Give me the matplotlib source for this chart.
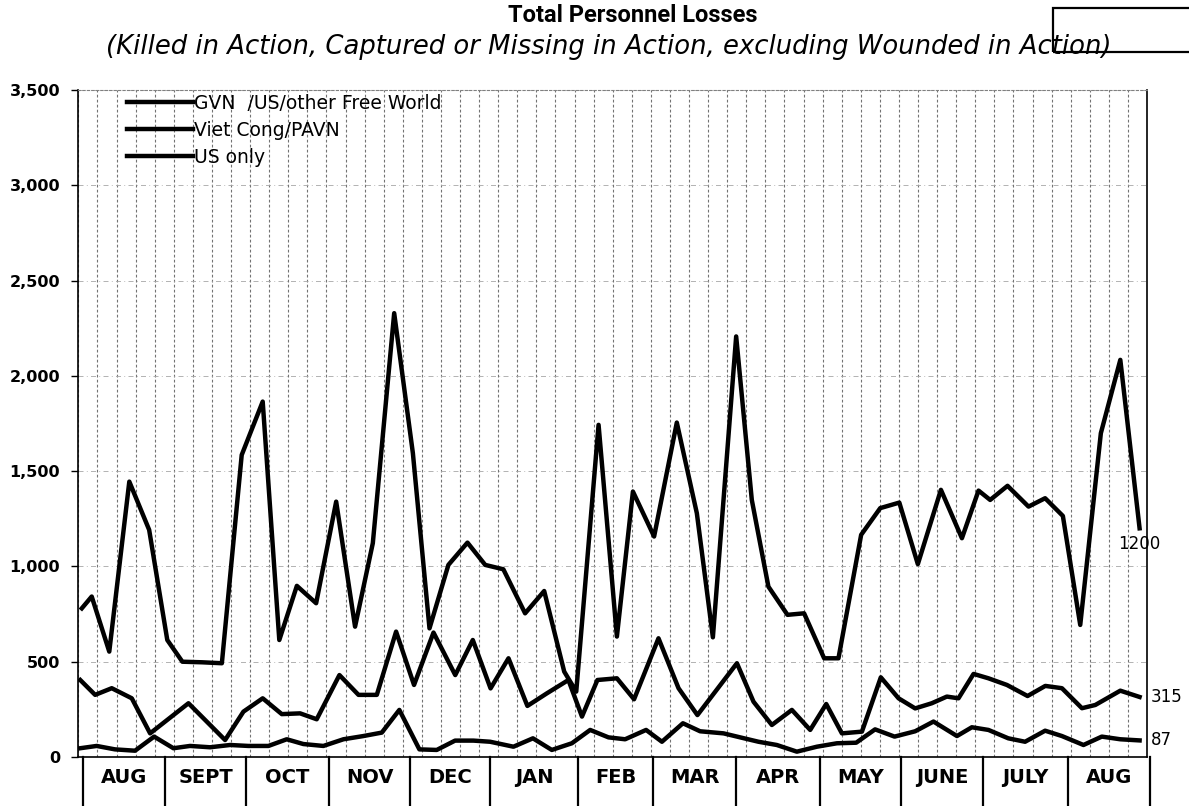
import numpy as np
import matplotlib.pyplot as plt
from matplotlib.patches import Rectangle
from matplotlib.ticker import FuncFormatter

# x = weeks from the start of the chart, y = personnel lost that week
vc_week = [0.18, 0.70, 1.62, 2.67, 3.71, 4.66, 5.45, 6.48, 7.52, 8.56,
           9.66, 10.53, 11.45, 12.46, 13.51, 14.50, 15.43, 16.55, 17.53, 18.40,
           19.39, 20.39, 21.32, 22.27, 23.41, 24.41, 25.46, 26.09, 27.26, 28.22,
           29.06, 30.17, 31.36, 32.41, 33.25, 34.47, 35.29, 36.16, 37.16, 38.03,
           39.08, 39.83, 41.02, 42.02, 43.02, 43.99, 45.20, 46.30, 47.17, 47.78,
           48.69, 49.79, 50.66, 51.59, 52.50, 53.58, 54.60, 55.61]
vc_loss = [780, 842, 553, 1445, 1192, 614, 500, 497, 492, 1585,
           1865, 614, 898, 807, 1340, 684, 1122, 2329, 1594, 675,
           1008, 1125, 1008, 985, 754, 871, 448, 343, 1743, 632,
           1393, 1157, 1755, 1279, 628, 2207, 1349, 894, 746, 754,
           518, 518, 1166, 1306, 1335, 1012, 1402, 1148, 1398, 1349,
           1423, 1314, 1358, 1265, 693, 1699, 2084, 1200]

gvn_week = [0.10, 0.88, 1.75, 2.80, 3.76, 5.77, 7.69, 8.65, 9.66, 10.66,
            11.62, 12.49, 13.68, 14.68, 15.64, 16.65, 17.59, 18.61, 19.75, 20.67,
            21.60, 22.54, 23.53, 24.55, 25.68, 26.39, 27.20, 28.22, 29.12, 30.40,
            31.45, 32.44, 34.51, 35.38, 36.34, 37.39, 38.35, 39.19, 40.01, 41.06,
            42.05, 42.98, 43.85, 44.72, 45.51, 46.12, 46.91, 47.69, 48.66, 49.74,
            50.67, 51.54, 52.59, 53.29, 54.60, 55.61]
gvn_loss = [404, 326, 361, 308, 124, 282, 89, 238, 308, 225,
            229, 198, 430, 326, 326, 658, 378, 653, 430, 614,
            360, 518, 268, 334, 404, 212, 404, 413, 303, 623,
            361, 220, 492, 290, 168, 247, 142, 278, 124, 133,
            418, 308, 255, 282, 317, 308, 436, 413, 378, 320,
            373, 361, 256, 273, 348, 315]

us_week = [0.10, 0.96, 1.92, 2.97, 3.97, 4.98, 5.85, 6.90, 7.95, 8.91,
           9.96, 10.92, 11.79, 12.84, 13.89, 14.94, 15.90, 16.82, 17.87, 18.78,
           19.74, 20.70, 21.58, 22.80, 23.82, 24.81, 25.86, 26.82, 27.78, 28.65,
           29.75, 30.58, 31.68, 32.58, 33.81, 34.68, 35.64, 36.60, 37.65, 38.70,
           39.75, 40.76, 41.75, 42.77, 43.85, 44.81, 46.04, 46.82, 47.69, 48.73,
           49.61, 50.66, 51.54, 52.67, 53.63, 54.60, 55.61]
us_loss = [46, 58, 40, 33, 107, 46, 58, 51, 63, 58,
           58, 93, 68, 58, 93, 110, 128, 247, 40, 37,
           86, 86, 80, 54, 98, 37, 72, 142, 103, 93,
           142, 80, 177, 135, 124, 103, 80, 63, 28, 54,
           72, 75, 145, 107, 135, 186, 110, 156, 142, 98,
           80, 138, 110, 63, 107, 93, 87]

months = ["AUG", "SEPT", "OCT", "NOV", "DEC", "JAN", "FEB",
          "MAR", "APR", "MAY", "JUNE", "JULY", "AUG"]
month_edges = [0.25, 4.54, 8.79, 13.14, 17.38, 21.58, 26.19,
               30.12, 34.47, 38.87, 43.12, 47.42, 51.87, 56.17]
n_weeks = 56

fig = plt.figure(figsize=(11.89, 8.06), dpi=100)
ax = fig.add_axes([0.0659, 0.0608, 0.8988, 0.8275])

gvn, = ax.plot(gvn_week, gvn_loss, color="black", lw=3.2, solid_joinstyle="round",
               label="GVN  /US/other Free World")
vc, = ax.plot(vc_week, vc_loss, color="black", lw=3.2, solid_joinstyle="round",
              label="Viet Cong/PAVN")
us, = ax.plot(us_week, us_loss, color="black", lw=3.2, solid_joinstyle="round",
              label="US only")

ax.set_xlim(0, n_weeks)
ax.set_ylim(0, 3500)

# weekly grid, thin broken lines like the printed original
ax.set_xticks(np.arange(0, n_weeks + 1))
ax.tick_params(axis="x", length=0, labelbottom=False)
ax.grid(axis="x", color="0.45", lw=0.8, linestyle=(0, (2.5, 2)))
ax.set_yticks(np.arange(0, 3501, 500))
ax.yaxis.set_major_formatter(FuncFormatter(lambda v, p: f"{int(v):,}"))
ax.tick_params(axis="y", length=5, width=1, labelsize=11.5, pad=8)
for lab in ax.get_yticklabels():
    lab.set_fontweight("bold")
ax.grid(axis="y", color="0.65", lw=0.6, linestyle=(0, (6, 4, 1, 4)))
ax.set_axisbelow(True)

ax.spines["top"].set_linestyle((0, (2, 2)))
ax.spines["top"].set_color("0.5")
ax.spines["top"].set_linewidth(0.8)
ax.spines["right"].set_linewidth(1.2)
ax.spines["left"].set_linewidth(1.2)
ax.spines["bottom"].set_linewidth(1.2)

# month bands under the axis
trans = ax.get_xaxis_transform()
for e in month_edges:
    ax.plot([e, e], [0, -0.075], transform=trans, color="black", lw=1.6, clip_on=False)
for i, m in enumerate(months):
    mid = (month_edges[i] + month_edges[i + 1]) / 2
    ax.text(mid, -0.03, m, transform=trans, ha="center", va="center",
            fontsize=14, fontweight="bold")

# end values
ax.annotate(f"{vc_loss[-1]}", (vc_week[-1], vc_loss[-1]), xytext=(0, -5),
            textcoords="offset points", ha="center", va="top", fontsize=12,
            annotation_clip=False)
ax.annotate(f"{gvn_loss[-1]}", (gvn_week[-1], gvn_loss[-1]), xytext=(8, 0),
            textcoords="offset points", ha="left", va="center", fontsize=12,
            annotation_clip=False)
ax.annotate(f"{us_loss[-1]}", (us_week[-1], us_loss[-1]), xytext=(8, 0),
            textcoords="offset points", ha="left", va="center", fontsize=12,
            annotation_clip=False)

ax.legend(handles=[gvn, vc, us], loc="upper left", bbox_to_anchor=(0.042, 1.0),
          frameon=False, fontsize=13.5, handlelength=3.5, handletextpad=0.1,
          labelspacing=0.42, borderpad=0.2, borderaxespad=0)

fig.text(0.532, 0.995, "Total Personnel Losses", ha="center", va="top",
         fontsize=17, fontweight="bold", family=["Roboto", "DejaVu Sans"])
fig.text(0.512, 0.942, "(Killed in Action, Captured or Missing in Action, excluding Wounded in Action)",
         ha="center", va="center", fontsize=18.6, style="italic")

fig.patches.append(Rectangle((0.8856, 0.9355), 0.13, 0.0546, transform=fig.transFigure,
                             fill=False, edgecolor="black", lw=1.6, zorder=0))

fig.savefig("out.png", dpi=100)
